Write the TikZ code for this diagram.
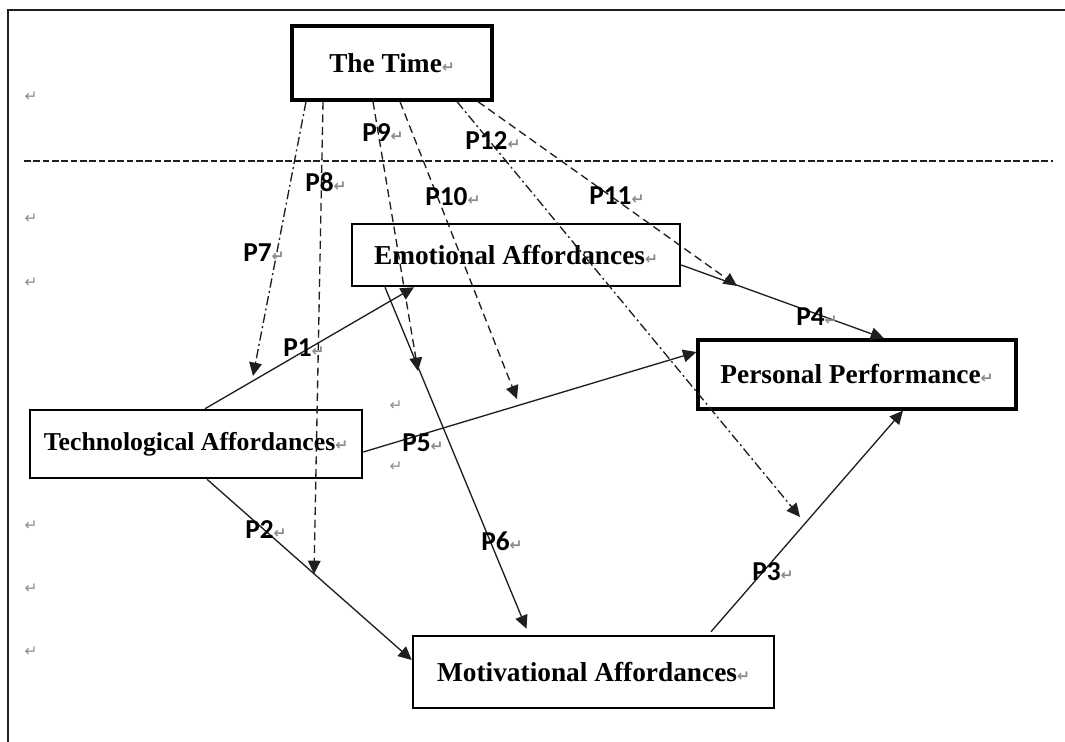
\documentclass[tikz,border=0pt]{standalone}
\usepackage{fontspec}
\setmainfont{Liberation Serif}
\newfontfamily\labelfont{Carlito}
\newfontfamily\markfont{DejaVu Sans}
\usepackage{tikz}
\usetikzlibrary{arrows.meta,calc}
\definecolor{MarkGrey}{HTML}{8C8C8C}
\definecolor{LineDark}{HTML}{1F1F1F}
\newcommand{\retmark}{{\markfont\fontsize{11.5}{11.5}\selectfont\color{MarkGrey}↵}}

\begin{document}
\begin{tikzpicture}[x=0.75pt,y=-0.75pt,box/.style={draw,line width=1.9pt,inner sep=0pt,font=\bfseries\fontsize{20.5}{24}\selectfont},bigbox/.style={box,line width=2.5pt},plabel/.style={anchor=west,inner sep=0pt,font=\labelfont\bfseries\fontsize{20.5}{24}\selectfont},retnode/.style={inner sep=0pt},arrow/.style={-{Triangle[length=10pt,width=9.5pt]},line width=1pt,LineDark},modarrow/.style={arrow,dash pattern=on 6pt off 3.5pt},modarrowdot/.style={arrow,dash pattern=on 7pt off 2.5pt on 1.5pt off 2.5pt}]
  \useasboundingbox (0,0) rectangle (1065,742);
  % frame and time divider
  \draw[line width=1.1pt,LineDark] (8,742) -- (8,10) -- (1065,10);
  \draw[line width=0.9pt,LineDark,dash pattern=on 5pt off 2pt] (24,161) -- (1053,161);
  % constructs
  \node[bigbox,minimum width=150pt,minimum height=55.5pt] (time) at (392,63) {The Time\retmark};
  \node[box,minimum width=246pt,minimum height=46.5pt] (emo) at (516,255) {Emotional Affordances\retmark};
  \node[bigbox,minimum width=238.5pt,minimum height=51.75pt] (perf) at (857,374.5) {Personal Performance\retmark};
  \node[box,minimum width=249pt,minimum height=51pt,font=\bfseries\fontsize{19.3}{24}\selectfont] (tech) at (196,444) {Technological Affordances\retmark};
  \node[box,minimum width=270.75pt,minimum height=54pt] (motiv) at (593.5,672) {Motivational Affordances\retmark};
  % direct paths
  \draw[arrow] ($(tech.north)+(9,0)$) -- ($(emo.south)+(-102,0)$);
  \draw[arrow] ($(tech.south)+(11,0)$) -- ($(motiv.west)+(0,-12)$);
  \draw[arrow] ($(motiv.north)+(117.5,-3)$) -- ($(perf.south)+(46,0)$);
  \draw[arrow] ($(emo.east)+(0,10)$) -- ($(perf.north)+(27,0)$);
  \draw[arrow] ($(tech.east)+(0,8)$) -- ($(perf.west)+(0,-22.5)$);
  \draw[arrow] ($(emo.south)+(-131,0)$) -- ($(motiv.north)+(-67,-6)$);
  % moderating paths of time
  \coordinate (t7) at (253,376);
  \coordinate (t8) at (314,574);
  \coordinate (t9) at (418,371);
  \coordinate (t10) at (517,399);
  \coordinate (t11) at (737,286);
  \coordinate (t12) at (800,517);
  \draw[modarrowdot] ($(time.south)+(-86,0)$) -- (t7);
  \draw[modarrow] ($(time.south)+(-69,0)$) -- (t8);
  \draw[modarrow] ($(time.south)+(-19,0)$) -- (t9);
  \draw[modarrow] ($(time.south)+(8,0)$) -- (t10);
  \draw[modarrow] ($(time.south)+(86,0)$) -- (t11);
  \draw[modarrowdot] ($(time.south)+(65,0)$) -- (t12);
  % path labels
  \node[plabel] (p1) at (283,348) {P1\retmark};
  \node[plabel] (p2) at (245,530) {P2\retmark};
  \node[plabel] (p3) at (752,572) {P3\retmark};
  \node[plabel] (p4) at (796,317) {P4\retmark};
  \node[plabel] (p5) at (402,443) {P5\retmark};
  \node[plabel] (p6) at (481,541) {P6\retmark};
  \node[plabel] (p7) at (243,253) {P7\retmark};
  \node[plabel] (p8) at (305,182) {P8\retmark};
  \node[plabel] (p9) at (362,133) {P9\retmark};
  \node[plabel] (p10) at (425,197) {P10\retmark};
  \node[plabel] (p11) at (589,196) {P11\retmark};
  \node[plabel] (p12) at (465,141) {P12\retmark};
  % stray paragraph marks
  \foreach \yy [count=\i] in {97,219,283,526,589,652}
    \node[retnode] (lm\i) at (31,\yy) {\retmark};
  \node[retnode] (cm1) at (396,406) {\retmark};
  \node[retnode] (cm2) at (396,467) {\retmark};
\end{tikzpicture}
\end{document}
